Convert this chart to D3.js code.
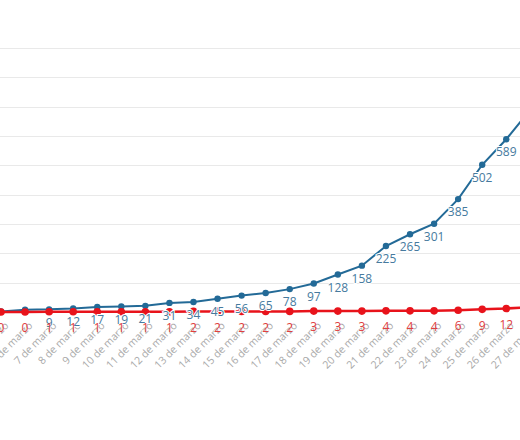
<!DOCTYPE html>
<html>
<head>
<meta charset="utf-8">
<script src="https://cdn.jsdelivr.net/npm/d3@7"></script>
<style>
  html, body { margin: 0; padding: 0; background: #fff; }
  svg { display: block; }
  text { font-family: "Open Sans", "Noto Sans", sans-serif; }
</style>
</head>
<body>
<svg id="chart" width="520" height="440"></svg>
<script>
const dates = ["5 de marzo","6 de marzo","7 de marzo","8 de marzo","9 de marzo","10 de marzo","11 de marzo","12 de marzo","13 de marzo","14 de marzo","15 de marzo","16 de marzo","17 de marzo","18 de marzo","19 de marzo","20 de marzo","21 de marzo","22 de marzo","23 de marzo","24 de marzo","25 de marzo","26 de marzo","27 de marzo"];
const casos = [2, 8, 9, 12, 17, 19, 21, 31, 34, 45, 56, 65, 78, 97, 128, 158, 225, 265, 301, 385, 502, 589, 690];
const muertes = [0, 0, 1, 1, 1, 1, 1, 1, 2, 2, 2, 2, 2, 3, 3, 3, 4, 4, 4, 6, 9, 12, 17];
const yTicks = [100, 200, 300, 400, 500, 600, 700, 800, 900];

const svg = d3.select("#chart");
const x = d3.scaleLinear().domain([0, dates.length - 1]).range([1, 1 + 24.06 * (dates.length - 1)]);
const y = d3.scaleLinear().domain([0, 1000]).range([312, 18.7]);

// gridlines
svg.append("g").selectAll("line").data(yTicks).join("line")
  .attr("x1", 0).attr("x2", 520)
  .attr("y1", d => Math.round(y(d)) + 0.5).attr("y2", d => Math.round(y(d)) + 0.5)
  .attr("stroke", "#e9e9e9").attr("stroke-width", 1);

// x axis labels
const xa = svg.append("g");
xa.selectAll("text").data(dates).join("text")
  .attr("transform", (d, i) => `translate(${x(i) + 3},${321}) rotate(-45)`)
  .attr("text-anchor", "end")
  .attr("dy", "0.7em")
  .attr("font-size", 10.5)
  .attr("fill", "#a9a9a9")
  .text(d => d);

const line = d3.line().x((d, i) => x(i)).y(d => y(d));

// blue series
svg.append("path").datum(casos)
  .attr("d", line).attr("fill", "none")
  .attr("stroke", "#236a97").attr("stroke-width", 2);
svg.append("g").selectAll("circle").data(casos).join("circle")
  .attr("cx", (d, i) => x(i)).attr("cy", d => y(d)).attr("r", 3.2)
  .attr("fill", "#236a97");

// red series
svg.append("path").datum(muertes)
  .attr("d", line).attr("fill", "none")
  .attr("stroke", "#e8131b").attr("stroke-width", 2.5);
svg.append("g").selectAll("circle").data(muertes).join("circle")
  .attr("cx", (d, i) => x(i)).attr("cy", d => y(d)).attr("r", 3.8)
  .attr("fill", "#e8131b");

// blue labels (first two hidden by overlap, as in the reference)
const blueLab = casos.map((v, i) => ({ v, i })).filter(d => d.i >= 2);
svg.append("g").selectAll("text").data(blueLab).join("text")
  .attr("x", d => x(d.i)).attr("y", d => y(d.v) + 13)
  .attr("dy", "0.35em")
  .attr("text-anchor", "middle")
  .attr("font-size", 12)
  .attr("fill", "#467a9e")
  .attr("stroke", "#fff").attr("stroke-width", 2).attr("paint-order", "stroke")
  .text(d => d.v);

// red labels
const redLab = muertes.map((v, i) => ({ v, i }));
svg.append("g").selectAll("text").data(redLab).join("text")
  .attr("x", d => x(d.i)).attr("y", d => y(d.v) + 16)
  .attr("dy", "0.35em")
  .attr("text-anchor", "middle")
  .attr("font-size", 12)
  .attr("fill", "#e0403f")
  .text(d => d.v);
</script>
</body>
</html>
